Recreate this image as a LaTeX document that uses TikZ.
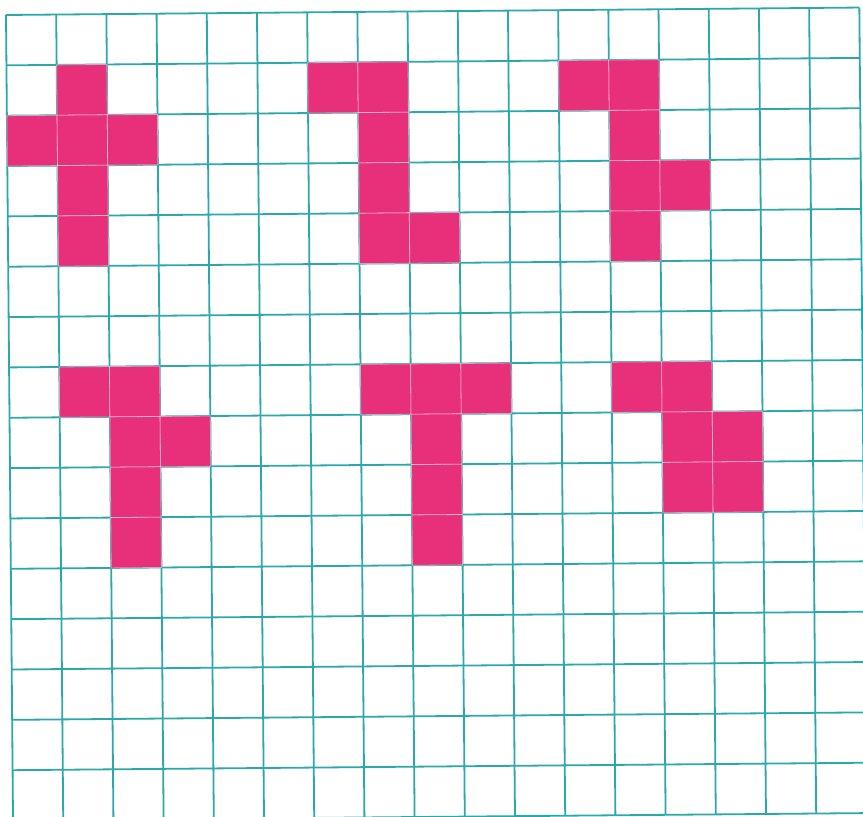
\documentclass[tikz,border=0pt]{standalone}
\definecolor{gridc}{RGB}{45,168,170}
\definecolor{pinkc}{RGB}{232,48,122}
\begin{document}
\begin{tikzpicture}[x=1pt,y=1pt,
  gridline/.style={draw=gridc,line width=1.8pt},
  cellfill/.style={fill=pinkc},
  cellseam/.style={draw=white,draw opacity=0.45,line width=0.8pt}]
\useasboundingbox (0,0) rectangle (863,817);
\fill[white] (0,0) rectangle (863,817);
\begin{scope}
\clip (0,0) rectangle (863,817);
\begin{scope}[shift={(6,802)},rotate=0.5,x=50.2pt,y=-50.35pt]
  \foreach \i in {0,...,17} \draw[gridline] (\i,0) -- (\i,16);
  \foreach \j in {0,...,16} \draw[gridline] (0,\j) -- (17,\j);
  \foreach \c/\r in {1/1,0/2,1/2,2/2,1/3,1/4,
                     6/1,7/1,7/2,7/3,7/4,8/4,
                     11/1,12/1,12/2,12/3,13/3,12/4,
                     1/7,2/7,2/8,3/8,2/9,2/10,
                     7/7,8/7,9/7,8/8,8/9,8/10,
                     12/7,13/7,13/8,14/8,13/9,14/9}
    {\fill[cellfill] (\c,\r) rectangle ++(1,1);
     \draw[cellseam] (\c,\r) rectangle ++(1,1);}
\end{scope}
\end{scope}
\end{tikzpicture}
\end{document}
